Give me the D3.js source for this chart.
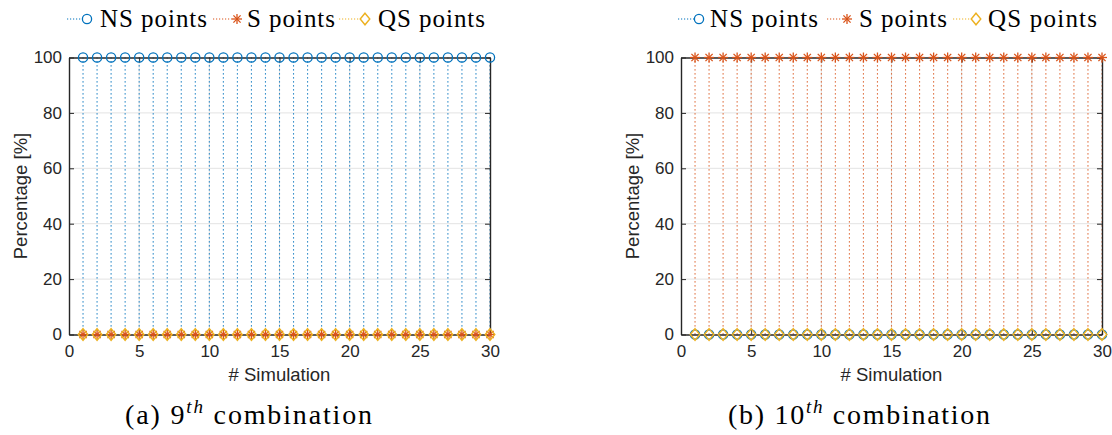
<!DOCTYPE html>
<html>
<head>
<meta charset="utf-8">
<script src="https://cdn.jsdelivr.net/npm/d3@7"></script>
<style>
  html, body { margin: 0; padding: 0; background: #fff; }
  svg { display: block; }
</style>
</head>
<body>
<svg id="chart" width="1112" height="435"></svg>
<script>
// ---------------- DATA ----------------
const simulations = [1,2,3,4,5,6,7,8,9,10,11,12,13,14,15,16,17,18,19,20,21,22,23,24,25,26,27,28,29,30];
const seriesNames = ["NS points", "S points", "QS points"];

// (a) 9th combination
const nsA = [100,100,100,100,100,100,100,100,100,100,100,100,100,100,100,100,100,100,100,100,100,100,100,100,100,100,100,100,100,100];
const sA  = [0,0,0,0,0,0,0,0,0,0,0,0,0,0,0,0,0,0,0,0,0,0,0,0,0,0,0,0,0,0];
const qsA = [0,0,0,0,0,0,0,0,0,0,0,0,0,0,0,0,0,0,0,0,0,0,0,0,0,0,0,0,0,0];

// (b) 10th combination
const nsB = [0,0,0,0,0,0,0,0,0,0,0,0,0,0,0,0,0,0,0,0,0,0,0,0,0,0,0,0,0,0];
const sB  = [100,100,100,100,100,100,100,100,100,100,100,100,100,100,100,100,100,100,100,100,100,100,100,100,100,100,100,100,100,100];
const qsB = [0,0,0,0,0,0,0,0,0,0,0,0,0,0,0,0,0,0,0,0,0,0,0,0,0,0,0,0,0,0];

const xTicks = [0,5,10,15,20,25,30];
const yTicks = [0,20,40,60,80,100];
const xLabel = "# Simulation";
const yLabel = "Percentage [%]";
const captions = [
  {pre: "(a) 9", sup: "th", post: " combination"},
  {pre: "(b) 10", sup: "th", post: " combination"}
];

// ---------------- STYLE ----------------
const colors = ["#0072BD", "#D95319", "#EDB120"];
const markerTypes = ["circle", "star", "diamond"];
const axisColor = "#262626";
const gridColor = "#e3e3e3";
const sansFont = "'Liberation Sans', Arial, Helvetica, sans-serif";
const serifFont = "'Liberation Serif', 'Times New Roman', serif";

const svg = d3.select("#chart");

function drawMarker(g, type, color, cx, cy) {
  if (type === "circle") {
    g.append("circle").attr("cx", cx).attr("cy", cy).attr("r", 4.6)
      .attr("fill", "none").attr("stroke", color).attr("stroke-width", 1.3);
  } else if (type === "star") {
    const r = 5;
    const p = g.append("g").attr("transform", `translate(${cx},${cy})`)
      .attr("stroke", color).attr("stroke-width", 1.3);
    p.append("line").attr("x1", -r).attr("x2", r).attr("y1", 0).attr("y2", 0);
    p.append("line").attr("x1", 0).attr("x2", 0).attr("y1", -r).attr("y2", r);
    const d = r * 0.72;
    p.append("line").attr("x1", -d).attr("x2", d).attr("y1", -d).attr("y2", d);
    p.append("line").attr("x1", -d).attr("x2", d).attr("y1", d).attr("y2", -d);
  } else if (type === "diamond") {
    const w = 4.8, h = 5.8;
    g.append("path")
      .attr("d", `M${cx},${cy - h}L${cx + w},${cy}L${cx},${cy + h}L${cx - w},${cy}Z`)
      .attr("fill", "none").attr("stroke", color).attr("stroke-width", 1.4);
  }
}

function drawPanel(cfg) {
  const x = d3.scaleLinear().domain([0, 30]).range([cfg.left, cfg.right]);
  const y = d3.scaleLinear().domain([0, 100]).range([cfg.bottom, cfg.top]);
  const g = svg.append("g");

  // grid
  g.append("g").selectAll("line").data(yTicks.slice(1, -1)).join("line")
    .attr("x1", cfg.left).attr("x2", cfg.right)
    .attr("y1", d => y(d)).attr("y2", d => y(d))
    .attr("stroke", gridColor).attr("stroke-width", 1);
  g.append("g").selectAll("line").data(xTicks.slice(1, -1)).join("line")
    .attr("y1", cfg.top).attr("y2", cfg.bottom)
    .attr("x1", d => x(d)).attr("x2", d => x(d))
    .attr("stroke", gridColor).attr("stroke-width", 1);

  // stems
  cfg.series.forEach((vals, si) => {
    g.append("g").selectAll("line").data(vals.map((v, i) => ({x: simulations[i], v})).filter(d => d.v !== 0))
      .join("line")
      .attr("x1", d => x(d.x)).attr("x2", d => x(d.x))
      .attr("y1", y(0)).attr("y2", d => y(d.v))
      .attr("stroke", colors[si]).attr("stroke-width", 1.1)
      .attr("stroke-dasharray", "1.3,2.7");
  });

  // axes (box)
  const axG = g.append("g");
  const xAxisB = d3.axisBottom(x).tickValues(xTicks).tickSizeInner(-5).tickSizeOuter(0).tickPadding(10);
  const xAxisT = d3.axisTop(x).tickValues(xTicks).tickSizeInner(-5).tickSizeOuter(0).tickFormat("");
  const yAxisL = d3.axisLeft(y).tickValues(yTicks).tickSizeInner(-5).tickSizeOuter(0).tickPadding(7);
  const yAxisR = d3.axisRight(y).tickValues(yTicks).tickSizeInner(-5).tickSizeOuter(0).tickFormat("");
  const styleAxis = sel => {
    sel.select(".domain").attr("stroke", axisColor).attr("stroke-width", 1.4);
    sel.selectAll(".tick line").attr("stroke", axisColor).attr("stroke-width", 1);
    sel.selectAll(".tick text").attr("fill", axisColor).style("font-family", sansFont).style("font-size", "17px");
  };
  axG.append("g").attr("transform", `translate(0,${cfg.bottom})`).call(xAxisB).call(styleAxis);
  axG.append("g").attr("transform", `translate(0,${cfg.top})`).call(xAxisT).call(styleAxis);
  axG.append("g").attr("transform", `translate(${cfg.left},0)`).call(yAxisL).call(styleAxis);
  axG.append("g").attr("transform", `translate(${cfg.right},0)`).call(yAxisR).call(styleAxis);
  axG.selectAll("text").attr("font-family", null);

  // markers
  cfg.series.forEach((vals, si) => {
    const mg = g.append("g");
    vals.forEach((v, i) => drawMarker(mg, markerTypes[si], colors[si], x(simulations[i]), y(v)));
  });

  // axis labels
  g.append("text").attr("x", (cfg.left + cfg.right) / 2).attr("y", cfg.bottom + 46)
    .attr("text-anchor", "middle").attr("fill", axisColor)
    .style("font-family", sansFont).style("font-size", "18.5px").text(xLabel);
  g.append("text")
    .attr("transform", `translate(${cfg.left - 42},${(cfg.top + cfg.bottom) / 2}) rotate(-90)`)
    .attr("text-anchor", "middle").attr("fill", axisColor)
    .style("font-family", sansFont).style("font-size", "18.5px").text(yLabel);

  // legend
  cfg.legend.forEach((it, si) => {
    const lg = g.append("g");
    lg.append("line").attr("x1", it.line0).attr("x2", it.marker - 5)
      .attr("y1", 19).attr("y2", 19)
      .attr("stroke", colors[si]).attr("stroke-width", 1).attr("stroke-dasharray", "1.2,1.8");
    drawMarker(lg, markerTypes[si], colors[si], it.marker, 19);
    lg.append("text").attr("x", it.text0).attr("y", 27)
      .attr("textLength", it.text1 - it.text0).attr("lengthAdjust", "spacing")
      .attr("fill", "#000").style("font-family", serifFont).style("font-size", "25px")
      .text(seriesNames[si]);
  });

  // caption
  const c = cfg.caption;
  const t = g.append("text").attr("x", cfg.capX).attr("y", 424)
    .attr("textLength", cfg.capW).attr("lengthAdjust", "spacing")
    .attr("fill", "#000").style("font-family", serifFont).style("font-size", "28px");
  t.append("tspan").text(c.pre);
  t.append("tspan").attr("dy", -11).style("font-size", "19px").style("font-style", "italic").text(c.sup);
  t.append("tspan").attr("dy", 11).text(c.post);
}

drawPanel({
  left: 69, right: 490, top: 57.5, bottom: 334.5,
  series: [nsA, sA, qsA],
  legend: [
    {line0: 67, marker: 87, text0: 100, text1: 207},
    {line0: 213, marker: 237, text0: 247, text1: 335},
    {line0: 339, marker: 365, text0: 378, text1: 485}
  ],
  caption: captions[0], capX: 125, capW: 247
});

drawPanel({
  left: 681, right: 1102, top: 57.5, bottom: 334.5,
  series: [nsB, sB, qsB],
  legend: [
    {line0: 678, marker: 699, text0: 710, text1: 818},
    {line0: 827, marker: 847, text0: 859, text1: 947},
    {line0: 953, marker: 976, text0: 988, text1: 1097}
  ],
  caption: captions[1], capX: 728, capW: 262
});
</script>
</body>
</html>
